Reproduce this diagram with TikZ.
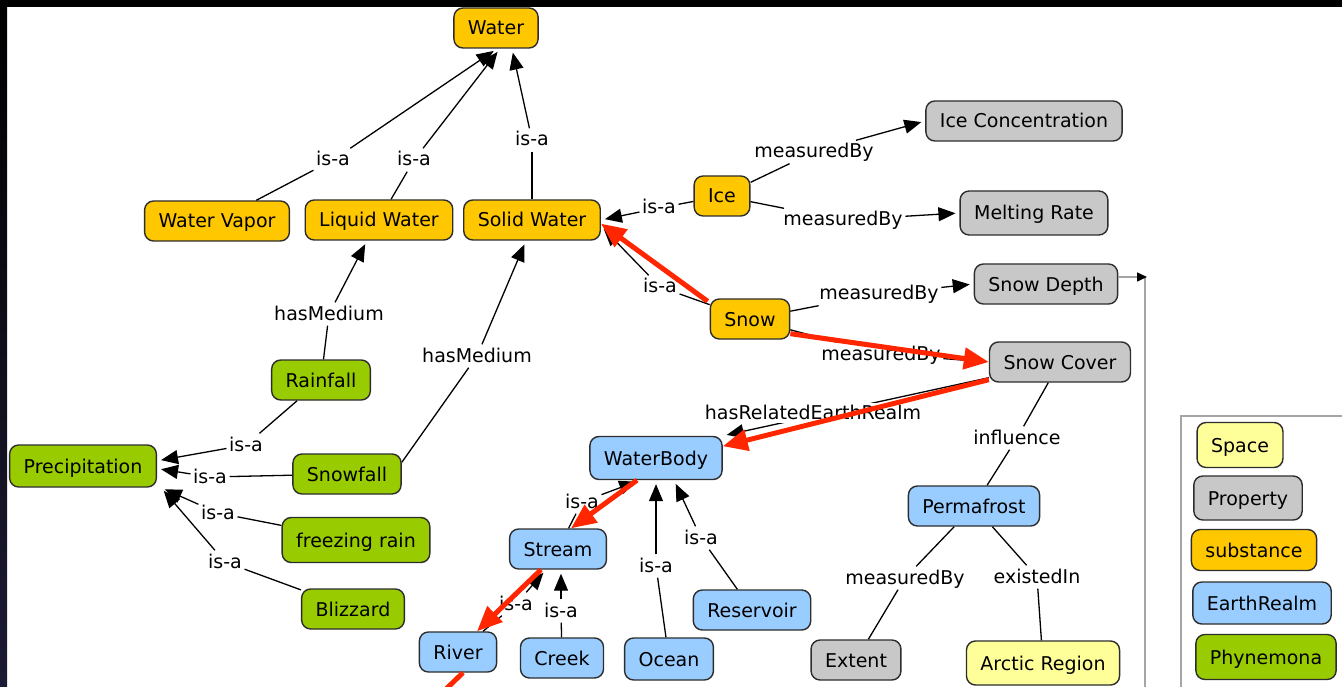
\documentclass[tikz,border=0pt]{standalone}
\usepackage{fontspec}
\setmainfont{DejaVu Sans}
\usetikzlibrary{arrows.meta}

\definecolor{substance}{RGB}{255,199,0}
\definecolor{property}{RGB}{200,200,200}
\definecolor{earth}{RGB}{153,204,255}
\definecolor{phen}{RGB}{153,204,0}
\definecolor{spacec}{RGB}{255,255,153}
\definecolor{boxline}{RGB}{45,45,45}
\definecolor{hilite}{RGB}{255,38,0}
\definecolor{frameline}{RGB}{165,165,165}
\definecolor{sidebar}{RGB}{28,27,52}

\tikzset{
  concept/.style={draw=boxline, line width=1.4pt, rounded corners=9pt,
    inner xsep=14pt, inner ysep=0pt, minimum height=40pt,
    font=\fontsize{19}{22}\selectfont, text height=16pt, text depth=2pt},
  lbl/.style={inner sep=2.5pt, font=\fontsize{19}{22}\selectfont,
    text height=15pt, text depth=3pt},
  edge/.style={line width=1.3pt, draw=black},
  arrow/.style={edge, -{Triangle[length=17pt,width=14pt]}, shorten >=4pt},
  hl/.style={line width=5pt, draw=hilite, -{Triangle[length=25pt,width=21pt]}},
  hlline/.style={line width=5pt, draw=hilite},
  frame/.style={draw=frameline, line width=1.5pt}
}

\begin{document}
\begin{tikzpicture}[x=1pt, y=-1pt]
\useasboundingbox (0,0) rectangle (1342,687);
\fill[white] (0,0) rectangle (1342,687);

% window edges
\fill[black] (0,0) rectangle (1342,7);
\shade[top color=black, bottom color=sidebar] (0,0) rectangle (7,687);

% side panel and legend frame
\draw[frame] (1145,277) -- (1145,687);
\draw[frame] (1181,687) -- (1181,416) -- (1342,416);

% substances
\node[concept, fill=substance] (water) at (496,28) {Water};
\node[concept, fill=substance] (wv) at (217,221) {Water Vapor};
\node[concept, fill=substance] (lw) at (379,220) {Liquid Water};
\node[concept, fill=substance] (sw) at (532,220) {Solid Water};
\node[concept, fill=substance] (ice) at (722,196) {Ice};
\node[concept, fill=substance] (snow) at (750,319) {Snow};

% properties
\node[concept, fill=property] (ic) at (1024,121) {Ice Concentration};
\node[concept, fill=property, minimum height=44pt] (mr) at (1034,213) {Melting Rate};
\node[concept, fill=property] (sd) at (1046,284) {Snow Depth};
\node[concept, fill=property] (sc) at (1060,362) {Snow Cover};
\node[concept, fill=property] (extent) at (856,660) {Extent};

% phenomena
\node[concept, fill=phen] (rain) at (321,380) {Rainfall};
\node[concept, fill=phen, minimum height=42pt] (precip) at (83,466) {Precipitation};
\node[concept, fill=phen] (snowfall) at (347,474) {Snowfall};
\node[concept, fill=phen, minimum height=45pt] (frz) at (356,540) {freezing rain};
\node[concept, fill=phen] (bliz) at (353,609) {Blizzard};

% earth realms
\node[concept, fill=earth, minimum height=43pt] (wb) at (656,458) {WaterBody};
\node[concept, fill=earth] (stream) at (558,549) {Stream};
\node[concept, fill=earth] (river) at (458,652) {River};
\node[concept, fill=earth] (creek) at (562,658) {Creek};
\node[concept, fill=earth, minimum height=42pt] (ocean) at (669,659) {Ocean};
\node[concept, fill=earth] (res) at (752,610) {Reservoir};
\node[concept, fill=earth] (perma) at (974,506) {Permafrost};

% space
\node[concept, fill=spacec, minimum height=44pt] (arctic) at (1043,663) {Arctic Region};

% legend
\node[concept, fill=spacec, minimum height=45pt] (kspace) at (1240,445) {Space};
\node[concept, fill=property, minimum height=44pt] (kprop) at (1248,498) {Property};
\node[concept, fill=substance, minimum height=41pt] (ksub) at (1254,550) {substance};
\node[concept, fill=earth, minimum height=42pt] (kearth) at (1262,603) {EarthRealm};
\node[concept, fill=phen, minimum height=45pt] (kphen) at (1266,657) {Phynemona};

% link labels
\node[lbl] (l1) at (333,160) {is-a};
\node[lbl] (l2) at (414,160) {is-a};
\node[lbl] (l3) at (532,140) {is-a};
\node[lbl] (l4) at (659,208) {is-a};
\node[lbl] (l5) at (660,287) {is-a};
\node[lbl] (l6) at (814,152) {measuredBy};
\node[lbl] (l7) at (843,220) {measuredBy};
\node[lbl] (l8) at (879,294) {measuredBy};
\node[lbl] (l9) at (881,354) {measuredBy};
\node[lbl] (l11) at (1017,438) {influence};
\node[lbl] (l12) at (905,578) {measuredBy};
\node[lbl] (l13) at (1037,577) {existedIn};
\node[lbl] (l14) at (582,502) {is-a};
\node[lbl] (l15) at (656,566) {is-a};
\node[lbl] (l16) at (701,538) {is-a};
\node[lbl] (l17) at (516,604) {is-a};
\node[lbl] (l18) at (561,611) {is-a};
\node[lbl] (l19) at (329,314) {hasMedium};
\node[lbl] (l20) at (477,356) {hasMedium};
\node[lbl] (l21) at (246,445) {is-a};
\node[lbl] (l22) at (210,477) {is-a};
\node[lbl] (l23) at (218,513) {is-a};
\node[lbl] (l24) at (225,562) {is-a};

% links
\draw[edge] (wv) -- (l1);   \draw[arrow] (l1) -- ([xshift=1pt]water.south);
\draw[edge] (lw) -- (l2);   \draw[arrow] (l2) -- ([xshift=4pt]water.south);
\draw[edge] (sw) -- (l3);   \draw[arrow] (l3) -- ([xshift=16pt]water.south);
\draw[edge] (ice) -- (l4);  \draw[arrow] (l4) -- (sw.east);
\draw[edge] (snow) -- (l5); \draw[arrow] (l5) -- (sw.-5);
\draw[edge] (ice) -- (l6);  \draw[arrow] (l6) -- (ic.west);
\draw[edge] (ice) -- (l7);  \draw[arrow] (l7) -- (mr.west);
\draw[edge] (snow) -- (l8); \draw[arrow] (l8) -- (sd.west);
\draw[edge] (snow) -- (l9); \draw[arrow] (l9) -- (sc.west);
\draw[arrow] ([yshift=5pt]sc.south west) -- (wb.north east);
\node[lbl, fill=white, inner sep=1pt] (l10) at (813,413) {hasRelatedEarthRealm};
\draw[edge] (sc) -- (l11);  \draw[edge] (l11) -- (perma);
\draw[edge] (perma) -- (l12); \draw[edge] (l12) -- (extent);
\draw[edge] (perma) -- (l13); \draw[edge] (l13) -- (arctic);
\draw[edge] (stream) -- (l14); \draw[arrow] (l14) -- ([xshift=-16pt]wb.south);
\draw[edge] (ocean) -- (l15);  \draw[arrow] (l15) -- (wb.south);
\draw[edge] (res) -- (l16);    \draw[arrow] (l16) -- ([xshift=18pt]wb.south);
\draw[edge] (river) -- (l17);  \draw[arrow] (l17) -- ([xshift=-12pt]stream.south);
\draw[edge] (creek) -- (l18);  \draw[arrow] (l18) -- ([xshift=3pt]stream.south);
\draw[edge] (rain) -- (l19);   \draw[arrow] (l19) -- ([xshift=-12pt]lw.south);
\draw[edge] (snowfall.12) -- (l20); \draw[arrow] (l20) -- ([xshift=-6pt]sw.south);
\draw[edge] (rain) -- (l21);   \draw[arrow] (l21) -- (precip.4);
\draw[edge] (snowfall) -- (l22); \draw[arrow] (l22) -- (precip.-2);
\draw[edge] (frz) -- (l23);    \draw[arrow] (l23) -- ([xshift=4pt]precip.south east);
\draw[edge] (bliz) -- (l24);   \draw[arrow] (l24) -- ([xshift=4pt]precip.south east);

% dangling link from Snow Depth into the side panel
\coordinate (stub) at (1147,277);
\draw[frame, -{Triangle[length=10pt,width=9pt,color=black]}] ([yshift=7pt]sd.east) -- (stub);

% highlighted path
\coordinate (rivertail) at (445,690);
\draw[hl] ([xshift=-2pt,yshift=-3pt]snow.north west) -- (sw.-3);
\draw[hl] (snow.-20) -- (sc.west);
\draw[hl] ([yshift=3pt]sc.south west) -- (wb.10);
\draw[hl] ([xshift=-19pt]wb.south) -- ([xshift=13pt]stream.north);
\draw[hl] ([xshift=-17pt]stream.south) -- ([xshift=19pt]river.north);
\draw[hlline] ([xshift=5pt]river.south) -- (rivertail);
\end{tikzpicture}
\end{document}
